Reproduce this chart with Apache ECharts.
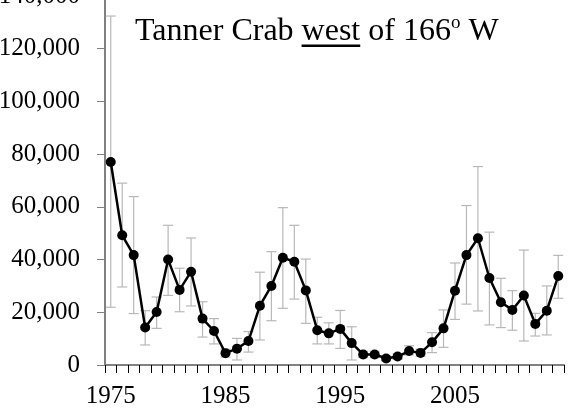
<!DOCTYPE html>
<html>
<head>
<meta charset="utf-8">
<script src="https://cdn.jsdelivr.net/npm/echarts@6/dist/echarts.min.js"></script>
<style>html,body{margin:0;padding:0;background:#fff}#c{width:571px;height:417px}</style>
</head>
<body>
<div id="c"></div>
<script>
const years = ["1975","1976","1977","1978","1979","1980","1981","1982","1983","1984","1985","1986","1987","1988","1989","1990","1991","1992","1993","1994","1995","1996","1997","1998","1999","2000","2001","2002","2003","2004","2005","2006","2007","2008","2009","2010","2011","2012","2013","2014"];
const abundance = [77000,49200,41700,14200,20100,40000,28500,35400,17600,12900,4500,6200,9100,22500,30000,40700,39200,28300,13200,12000,13700,8300,4000,4000,2500,3200,5300,4600,8600,13900,28200,41700,48100,33000,23800,20900,26400,15600,20600,33800];
const lowerCI = [21900,29600,19500,7600,13900,26400,20200,22400,10600,8000,3000,1900,4900,9500,16800,21500,25000,15800,8000,8000,6300,1900,2800,2800,1500,2200,3800,3300,4700,6700,17300,23100,20500,15200,14200,13200,9100,11000,11400,25300];
const upperCI = [132400,69000,63900,20600,25800,53000,36700,48200,24000,17600,6000,10100,12700,35200,43000,59700,53000,40200,18100,16000,20700,14500,5200,5200,3500,4300,7300,6000,12300,20900,38700,60500,75300,50400,32900,28200,43600,19600,30000,41600];
const yTicks = [0,20000,40000,60000,80000,100000,120000,140000];
const titleParts = ["Tanner Crab ", "west", " of 166", "o", " W"];

const FONT = "'Liberation Serif','Times New Roman',serif";
const chart = echarts.init(document.getElementById('c'), null, {renderer:'canvas'});

const cv = document.createElement('canvas').getContext('2d');
function w(t, size){ cv.font = size + "px 'Liberation Serif'"; return cv.measureText(t).width; }
const TS = 32, SS = 19;
const tx0 = 135;
let x = tx0;
const gEls = [];
const sizes = [TS, TS, TS, SS, TS];
const tops = [16, 16, 16, 14, 16];
let uStart = 0, uEnd = 0;
titleParts.forEach((p, i) => {
  gEls.push({type:'text', x: x, y: tops[i], style:{text:p, font: sizes[i] + "px " + FONT, fill:'#000', verticalAlign:'top', align:'left'}});
  if (i === 1) { uStart = x; uEnd = x + w(p, TS); }
  x += w(p, sizes[i]);
});
gEls.push({type:'rect', shape:{x:uStart, y:44.5, width:uEnd-uStart, height:2.5}, style:{fill:'#000'}});

const option = {
  animation: false,
  backgroundColor: '#fff',
  grid: {left: 105, right: 7, top: -4, bottom: 52, containLabel: false, outerBoundsMode: 'none'},
  xAxis: {
    type: 'category', data: years, boundaryGap: true,
    axisLine: {show: true, lineStyle: {color: '#808080', width: 2}},
    axisTick: {show: true, interval: 0, length: 8, lineStyle: {color: '#000', width: 1}},
    axisLabel: {interval: 9, margin: 19, color: '#000', fontFamily: FONT, fontSize: 25},
    splitLine: {show: false}
  },
  yAxis: {
    type: 'value', min: 0, max: 140000, interval: 20000,
    axisLine: {show: true, lineStyle: {color: '#808080', width: 2}},
    axisTick: {show: true, length: 8, lineStyle: {color: '#808080', width: 1}},
    axisLabel: {margin: 25, color: '#000', fontFamily: FONT, fontSize: 25,
      formatter: v => yTicks.indexOf(v) >= 0 ? v.toLocaleString('en-US') : ''},
    splitLine: {show: false}
  },
  series: [
    {
      type: 'custom', z: 1,
      data: years.map((y, i) => [i, lowerCI[i], upperCI[i]]),
      encode: {x: 0, y: [1, 2]},
      renderItem: function(params, api) {
        const i = api.value(0);
        const lo = api.coord([i, api.value(1)]);
        const hi = api.coord([i, api.value(2)]);
        const hw = 5;
        const st = {stroke: '#b8b8b8', lineWidth: 1.2};
        return {type: 'group', children: [
          {type:'line', shape:{x1:lo[0], y1:lo[1], x2:hi[0], y2:hi[1]}, style: st},
          {type:'line', shape:{x1:hi[0]-hw, y1:hi[1], x2:hi[0]+hw, y2:hi[1]}, style: st},
          {type:'line', shape:{x1:lo[0]-hw, y1:lo[1], x2:lo[0]+hw, y2:lo[1]}, style: st}
        ]};
      }
    },
    {
      type: 'line', z: 3, data: abundance,
      symbol: 'circle', symbolSize: 10, showSymbol: true, showAllSymbol: true,
      lineStyle: {color: '#000', width: 2.5},
      itemStyle: {color: '#000'}
    }
  ],
  graphic: gEls
};
chart.setOption(option);
</script>
</body>
</html>
